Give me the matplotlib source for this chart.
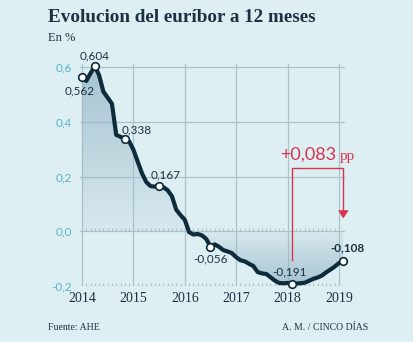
import numpy as np
import matplotlib.pyplot as plt
from matplotlib.patches import Polygon
from matplotlib.colors import to_rgb

# 12-month euribor, monthly averages Jan 2014 - Feb 2019 (%)
vals_2014 = [0.562, 0.549, 0.577, 0.604, 0.570, 0.510, 0.488, 0.466, 0.352, 0.345, 0.338, 0.329]
vals_2015 = [0.298, 0.255, 0.212, 0.180, 0.165, 0.163, 0.167, 0.161, 0.150, 0.128, 0.079, 0.059]
vals_2016 = [0.042, -0.003, -0.012, -0.010, -0.015, -0.028, -0.056, -0.048, -0.057, -0.069, -0.074, -0.080]
vals_2017 = [-0.095, -0.106, -0.110, -0.119, -0.127, -0.149, -0.154, -0.156, -0.168, -0.180, -0.189, -0.190]
vals_2018 = [-0.189, -0.191, -0.191, -0.190, -0.188, -0.181, -0.174, -0.169, -0.162, -0.150, -0.140, -0.129]
vals_2019 = [-0.116, -0.108]

euribor = np.array(vals_2014 + vals_2015 + vals_2016 + vals_2017 + vals_2018 + vals_2019)
months = 2014 + np.arange(len(euribor)) / 12.0

# highlighted points: month index, label
marked_idx = [0, 3, 10, 18, 30, 49, 61]
marked_txt = ["0,562", "0,604", "0,338", "0,167", "-0,056", "-0,191", "-0,108"]

years = [2014, 2015, 2016, 2017, 2018, 2019]
y_ticks = [0.6, 0.4, 0.2, 0.0, -0.2]
y_tick_labels = ["0,6", "0,4", "0,2", "0,0", "-0,2"]
diff_label = "+0,083"

bg = "#deeff3"
navy = "#1b3242"
line_col = "#0e2b3c"
teal = "#55b5c7"
grid_col = "#adc3cb"
red = "#d8334f"

fig = plt.figure(figsize=(4.14, 3.42), dpi=100, facecolor=bg)
ax = fig.add_axes([79.9 / 414, 56 / 342, (345.2 - 79.9) / 414, 222 / 342])
ax.set_facecolor(bg)
ax.set_xlim(2013.96, 2019.12)
ax.set_ylim(-0.2, 0.611)
for s in ax.spines.values():
    s.set_visible(False)

# grid
for yr in years:
    ax.axvline(yr, color=grid_col, lw=0.9, zorder=1)
for yv in y_ticks:
    ax.axhline(yv, color=grid_col, lw=0.9, zorder=1)
# monthly ticks on the 0 and -0.2 lines
tick_x = 2014 + np.arange(0, 61) / 12.0
for base in [0.0, -0.2]:
    ax.vlines(tick_x, base, base + 0.011, color=grid_col, lw=0.8, zorder=1)

# gradient fill between the curve and zero
yy = np.linspace(-0.2, 0.611, 300)
t = np.where(yy > 0, yy / 0.6, -yy / 0.2)
t = np.clip(t, 0, 1)
dark = np.array(to_rgb("#97b6c7"))
img = np.zeros((len(yy), 2, 4))
img[..., :3] = dark
img[..., 3] = (0.1 + 0.68 * t)[:, None]
im = ax.imshow(img, extent=(2013.96, 2019.12, -0.2, 0.611), origin="lower",
               aspect="auto", zorder=2, interpolation="bilinear")
verts = [(months[0], 0)] + list(zip(months, euribor)) + [(months[-1], 0)]
clip = Polygon(verts, closed=True, transform=ax.transData, facecolor="none", edgecolor="none")
ax.add_patch(clip)
im.set_clip_path(clip)

ax.plot(months, euribor, color=line_col, lw=3.0, solid_joinstyle="round",
        solid_capstyle="round", zorder=4, clip_on=False)
ax.plot(months[marked_idx], euribor[marked_idx], "o", ms=5.5, mfc="white",
        mec=line_col, mew=1.2, zorder=5, clip_on=False)

# point labels (offsets in pixels)
offsets = [(-2, -14, "center"), (0, 10, "center"), (-3, 9, "left"), (-8, 11, "left"),
           (0, -12, "center"), (-2, 12, "center"), (4, 13, "center")]
for i, txt, (dx, dy, ha) in zip(marked_idx, marked_txt, offsets):
    ax.annotate(txt, (months[i], euribor[i]), xytext=(dx * 0.72, dy * 0.72),
                textcoords="offset points", ha=ha, va="center", fontsize=8.5,
                family="Lato", color=navy, zorder=6, annotation_clip=False,
                fontweight="bold" if txt == "-0,108" else "normal")

# change since the low
x0, x1 = months[49], months[61]
ax.plot([x0, x0, x1, x1], [-0.106, 0.23, 0.23, 0.06], color=red, lw=1.0, zorder=6)
ax.annotate("", xy=(x1, 0.047), xytext=(x1, 0.065),
            arrowprops=dict(arrowstyle="-|>,head_width=0.3,head_length=0.45",
                            color=red, lw=1.0, shrinkA=0, shrinkB=0), zorder=6)
ax.text(x0 - 0.23, 0.262, diff_label, fontsize=13, family="Lato", color=red,
        ha="left", va="baseline", zorder=6)
ax.text(x1 - 0.07, 0.262, "pp", fontsize=11, family="Liberation Serif", color=red,
        ha="left", va="baseline", zorder=6)

ax.set_xticks(years)
ax.set_xticklabels([str(y) for y in years], fontsize=10, family="Liberation Serif", color=navy)
ax.set_yticks(y_ticks)
ax.set_yticklabels(y_tick_labels, fontsize=8.5, family="Lato", color=teal)
ax.tick_params(axis="both", length=0)
ax.tick_params(axis="y", pad=6)
ax.tick_params(axis="x", pad=4.5)

fig.text(48 / 414, 1 - 18 / 342, "Evolucion del euríbor a 12 meses", fontsize=13.8,
         family="Liberation Serif", fontweight="bold", color=navy, va="center")
fig.text(48 / 414, 1 - 38 / 342, "En %", fontsize=9, family="Liberation Serif",
         color=navy, va="center")
fig.text(48 / 414, 1 - 328 / 342, "Fuente: AHE", fontsize=7, family="Liberation Serif",
         color=navy, va="center")
fig.text(368 / 414, 1 - 328 / 342, "A. M. / CINCO DÍAS", fontsize=7,
         family="Liberation Serif", color=navy, va="center", ha="right")

fig.savefig("out.png", dpi=100, facecolor=bg)
